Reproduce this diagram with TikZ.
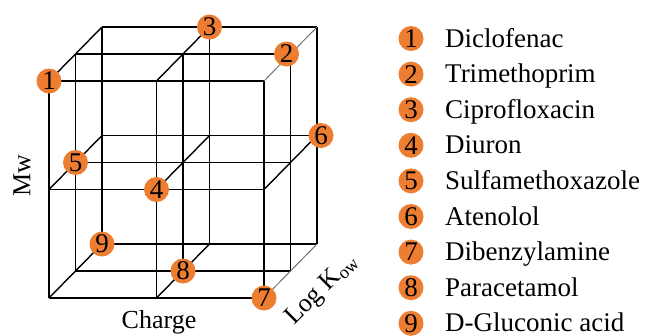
\documentclass[tikz,border=0pt]{standalone}
\usepackage{fontspec}
\setmainfont{Liberation Serif}
\definecolor{dotorange}{RGB}{237,125,49}
\begin{document}
\begin{tikzpicture}[x=1pt,y=-1pt,
  grid/.style={black, line width=1.4pt},
  faint/.style={black!55, line width=1pt},
  dot/.style={circle, fill=dotorange, inner sep=0pt, minimum size=25pt, font=\fontsize{27}{27}\selectfont},
  legtext/.style={anchor=base west, inner sep=0pt, font=\fontsize{27}{30}\selectfont},
  axlabel/.style={inner sep=0pt, font=\fontsize{26}{28}\selectfont}]
\useasboundingbox (0,0) rectangle (659,335);
% lattice points of the cube
\foreach \i in {0,1,2}
  \foreach \j in {0,1,2}
    \foreach \k in {0,1,2}
      \coordinate (p\i\j\k) at ({49+107.5*\i+26.5*\k},{298-108.5*\j-27*\k});
% grid lines
\foreach \a in {0,1,2}
  \foreach \b in {0,1,2}{
    \draw[grid] (p0\a\b) -- (p2\a\b);
    \draw[grid] (p\a0\b) -- (p\a2\b);
  }
\foreach \a/\b in {0/0,0/1,0/2,1/0,1/1,1/2,2/1}
  \draw[grid] (p\a\b0) -- (p\a\b2);
\draw[faint] (p200) -- (p202);
\draw[faint] (p220) -- (p222);
% compounds in the cube
\node[dot] (c1) at (p020) {1};
\node[dot,xshift=-4pt] (c2) at (p221) {2};
\node[dot] (c3) at (p122) {3};
\node[dot] (c4) at (p110) {4};
\node[dot] (c5) at (p011) {5};
\node[dot,xshift=4pt] (c6) at (p212) {6};
\node[dot] (c7) at (p200) {7};
\node[dot] (c8) at (p101) {8};
\node[dot] (c9) at (p002) {9};
% axis labels
\node[axlabel, rotate=90] (mw) at (22,176) {Mw};
\node[axlabel, anchor=base] (charge) at (159,328) {Charge};
\node[axlabel, rotate=45] (logk) at (322,290) {Log K\textsubscript{ow}};
% legend
\foreach \n/\name in {1/Diclofenac,2/Trimethoprim,3/Ciprofloxacin,4/Diuron,5/Sulfamethoxazole,6/Atenolol,7/Dibenzylamine,8/Paracetamol,9/D-Gluconic acid}{
  \node[dot] (l\n) at (411,{38.5+35.6*(\n-1)}) {\n};
  \node[legtext] (t\n) at (445,{47+35.6*(\n-1)}) {\name};
}
\end{tikzpicture}
\end{document}
